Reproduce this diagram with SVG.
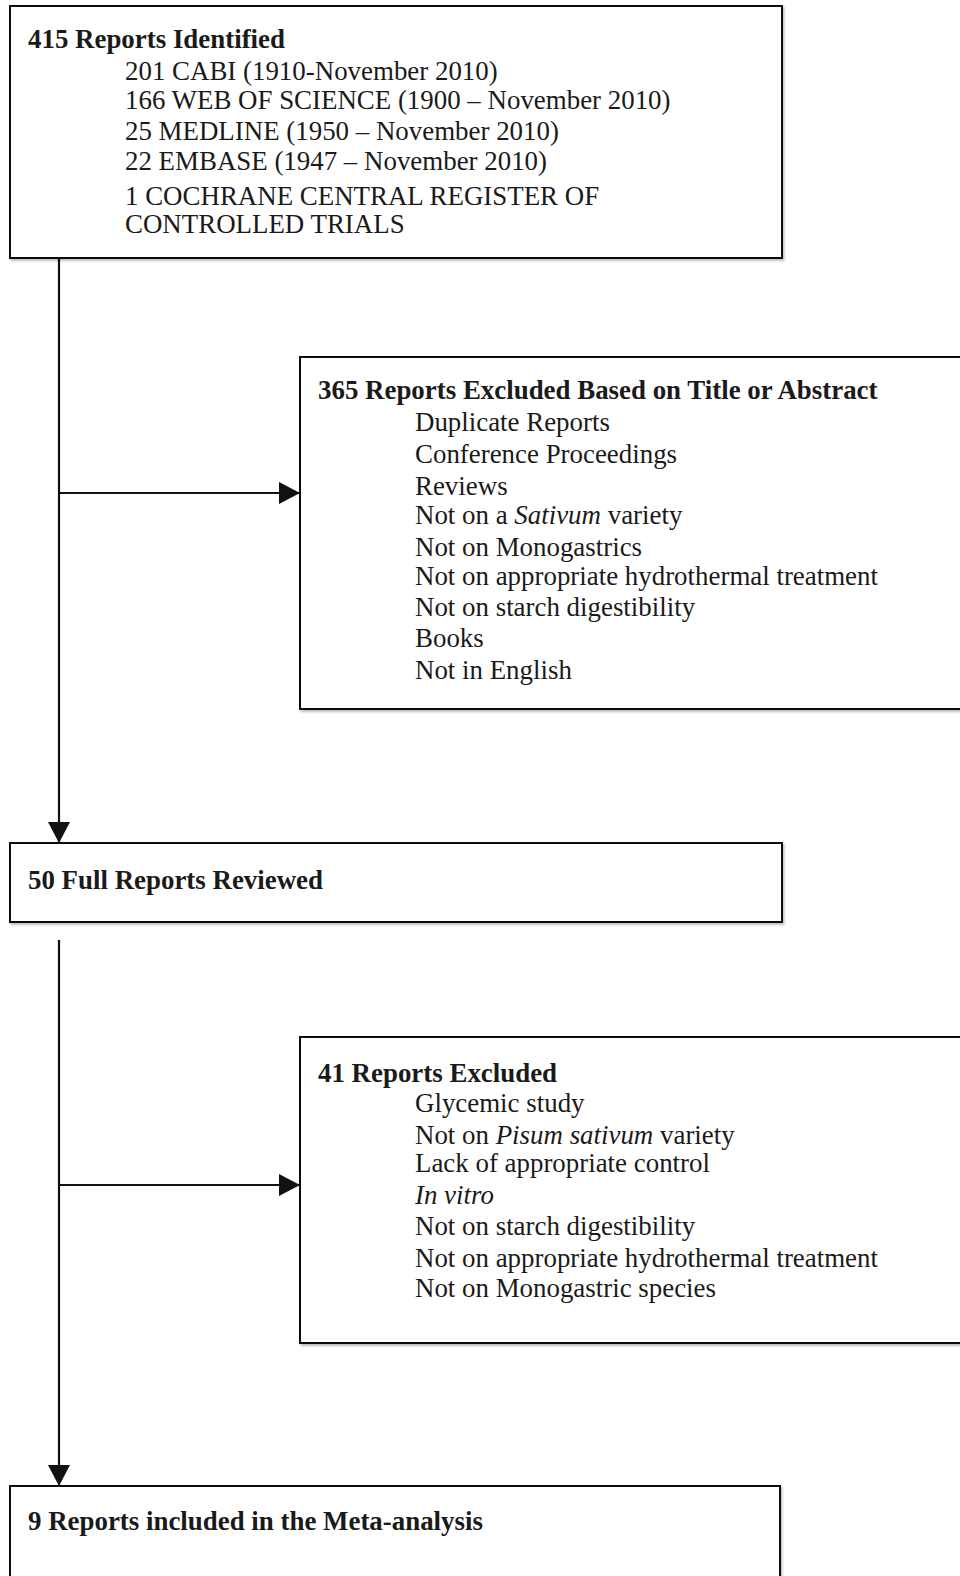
<svg xmlns="http://www.w3.org/2000/svg" width="960" height="1576" viewBox="0 0 960 1576">
<style>
  .box{fill:#fff;stroke:#111;stroke-width:2;filter:url(#sh)}
  .t{font-family:"Liberation Serif","Times New Roman",serif;font-size:26.9px;fill:#1a1a1a}
  .b{font-weight:bold}
  .i{font-style:italic}
  .ln{stroke:#111;stroke-width:2.2;fill:none}
</style>
<defs>
  <filter id="sh" x="-5%" y="-5%" width="110%" height="115%">
    <feDropShadow dx="1.5" dy="2" stdDeviation="1" flood-color="#000" flood-opacity="0.25"/>
  </filter>
  <marker id="ah" markerUnits="userSpaceOnUse" markerWidth="22" markerHeight="24" refX="21" refY="11" orient="auto">
    <path d="M0,0 L21,11 L0,22 Z" fill="#111"/>
  </marker>
</defs>
<rect width="960" height="1576" fill="#fff"/>

<g id="connectors">
  <line class="ln" x1="59" y1="258" x2="59" y2="843" marker-end="url(#ah)"/>
  <line class="ln" x1="59" y1="493" x2="300" y2="493" marker-end="url(#ah)"/>
  <line class="ln" x1="59" y1="940" x2="59" y2="1486" marker-end="url(#ah)"/>
  <line class="ln" x1="59" y1="1185" x2="300" y2="1185" marker-end="url(#ah)"/>
</g>

<g id="node-identified">
  <rect class="box" x="10" y="6" width="772" height="252"/>
  <text class="t b" x="28" y="48">415 Reports Identified</text>
  <text class="t" x="125" y="80">201 CABI (1910-November 2010)</text>
  <text class="t" x="125" y="109">166 WEB OF SCIENCE (1900 – November 2010)</text>
  <text class="t" x="125" y="140">25 MEDLINE (1950 – November 2010)</text>
  <text class="t" x="125" y="170">22 EMBASE (1947 – November 2010)</text>
  <text class="t" x="125" y="205">1 COCHRANE CENTRAL REGISTER OF</text>
  <text class="t" x="125" y="233">CONTROLLED TRIALS</text>
</g>

<g id="node-excluded1">
  <rect class="box" x="300" y="357" width="680" height="352"/>
  <text class="t b" x="318" y="399">365 Reports Excluded Based on Title or Abstract</text>
  <text class="t" x="415" y="431">Duplicate Reports</text>
  <text class="t" x="415" y="463">Conference Proceedings</text>
  <text class="t" x="415" y="495">Reviews</text>
  <text class="t" x="415" y="524">Not on a <tspan class="i">Sativum</tspan> variety</text>
  <text class="t" x="415" y="556">Not on Monogastrics</text>
  <text class="t" x="415" y="585">Not on appropriate hydrothermal treatment</text>
  <text class="t" x="415" y="616">Not on starch digestibility</text>
  <text class="t" x="415" y="647">Books</text>
  <text class="t" x="415" y="679">Not in English</text>
</g>

<g id="node-reviewed">
  <rect class="box" x="10" y="843" width="772" height="79"/>
  <text class="t b" x="28" y="889">50 Full Reports Reviewed</text>
</g>

<g id="node-excluded2">
  <rect class="box" x="300" y="1037" width="680" height="306"/>
  <text class="t b" x="318" y="1082">41 Reports Excluded</text>
  <text class="t" x="415" y="1112">Glycemic study</text>
  <text class="t" x="415" y="1144">Not on <tspan class="i">Pisum sativum</tspan> variety</text>
  <text class="t" x="415" y="1172">Lack of appropriate control</text>
  <text class="t i" x="415" y="1204">In vitro</text>
  <text class="t" x="415" y="1235">Not on starch digestibility</text>
  <text class="t" x="415" y="1267">Not on appropriate hydrothermal treatment</text>
  <text class="t" x="415" y="1297">Not on Monogastric species</text>
</g>

<g id="node-included">
  <rect class="box" x="10" y="1486" width="770" height="120"/>
  <text class="t b" x="28" y="1530">9 Reports included in the Meta-analysis</text>
</g>
</svg>
